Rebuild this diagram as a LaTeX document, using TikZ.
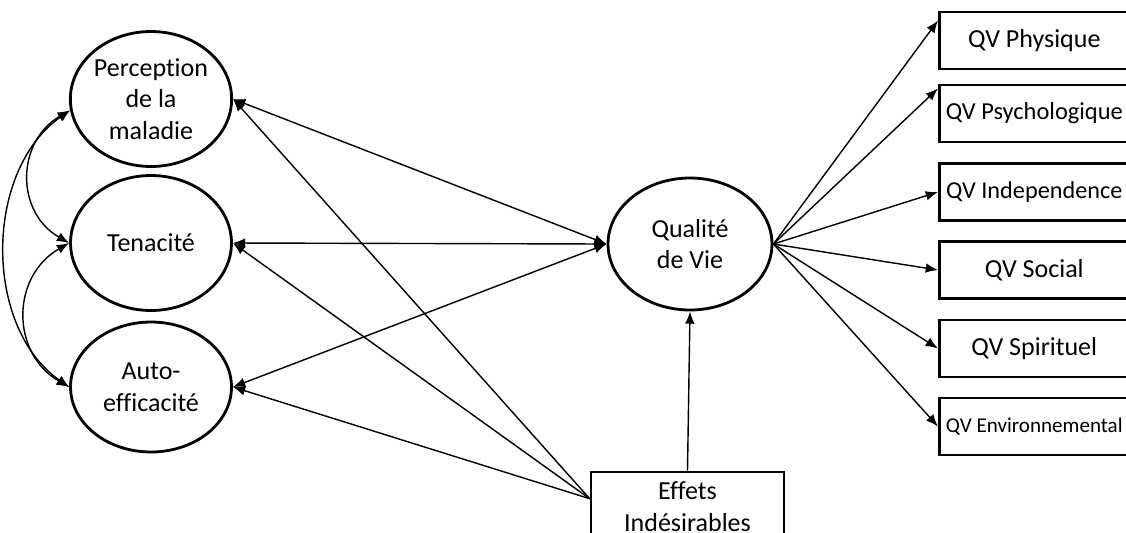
\documentclass[tikz,border=0pt]{standalone}
\usepackage{fontspec}
\setmainfont[Ligatures=NoCommon]{Carlito}
\usetikzlibrary{arrows.meta,shapes.geometric,calc}

\begin{document}
\begin{tikzpicture}[x=0.02cm,y=0.02cm,
    font=\fontsize{14.8}{18.1}\selectfont,
    >={Latex[length=7pt,width=5.5pt]},
    latent/.style={ellipse,draw,line width=1.6pt,inner sep=0pt,
      minimum width=3.22cm,minimum height=2.7cm,align=center},
    obs/.style={rectangle,draw,line width=1.5pt,inner sep=0pt,
      minimum width=3.8cm,minimum height=1.14cm,align=center},
    link/.style={line width=0.8pt}]
  \useasboundingbox (0,0) rectangle (1126,-532);

  % predicteurs
  \node[latent] (perc) at (151,-99) {Perception\\de la\\maladie};
  \node[latent] (ten) at (151,-243) {Tenacité};
  \node[latent,minimum height=2.6cm] (auto) at (151,-387) {Auto-\\efficacité};

  % qualite de vie et effets
  \node[latent,minimum width=3.28cm,minimum height=2.64cm] (qdv) at (690,-244) {Qualité\\de Vie};
  \node[obs,minimum width=3.86cm,minimum height=1.4cm] (eff) at (687.5,-507) {Effets\\Indésirables};

  % dimensions QV
  \node[obs,anchor=west] (phys) at (938,-40.5) {QV Physique};
  \node[obs,anchor=west,font=\fontsize{13.9}{16}\selectfont] (psy) at (938,-113.5) {QV Psychologique};
  \node[obs,anchor=west,font=\fontsize{13.8}{16}\selectfont] (indep) at (938,-192) {QV Independence};
  \node[obs,anchor=west] (soc) at (938,-270) {QV Social};
  \node[obs,anchor=west] (spir) at (938,-348.5) {QV Spirituel};
  \node[obs,anchor=west,font=\fontsize{12}{14}\selectfont] (env) at (938,-426.5) {QV Environnemental};

  % covariances
  \draw[link,<->] (perc.188) to[out=210,in=150,looseness=1.2] (ten.west);
  \draw[link,<->] (ten.west) to[out=210,in=150,looseness=1.2] (auto.west);
  \draw[link,<->] (perc.188) to[out=215,in=145,looseness=0.97] (auto.west);

  \coordinate (effsrc) at ($(eff.north west)+(0,-28)$);
  \draw[link,->] (effsrc) -- (perc.east);
  \draw[link,->] (effsrc) -- (ten.east);
  \draw[link,->] (effsrc) -- (auto.east);
  \draw[link,->] (eff.north) -- (qdv.south);

  \draw[link,<->] (perc.east) -- (qdv.west);
  \draw[link,<->] (ten.east) -- (qdv.west);
  \draw[link,<->] (auto.east) -- (qdv.west);

  \draw[link,->] (qdv.east) -- ($(phys.north west)!0.08!(phys.south west)+(0,-5)$);
  \draw[link,->] (qdv.east) -- ($(psy.north west)!0.08!(psy.south west)$);
  \draw[link,->] (qdv.east) -- (indep.west);
  \draw[link,->] (qdv.east) -- (soc.west);
  \draw[link,->] (qdv.east) -- (spir.west);
  \draw[link,->] (qdv.east) -- (env.west);
\end{tikzpicture}
\end{document}
